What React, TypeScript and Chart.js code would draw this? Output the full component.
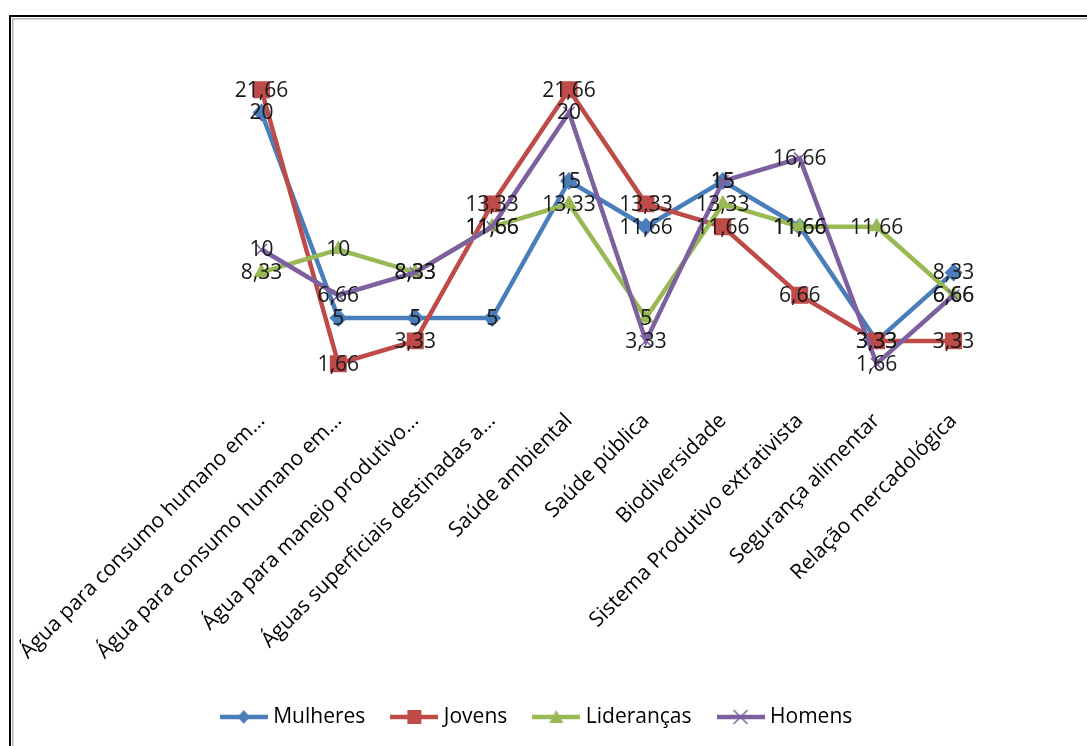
import React, { useEffect, useRef } from "react";
import { Chart, registerables } from "chart.js";

Chart.register(...registerables);

const categories = [
  "Água para consumo humano em…",
  "Água para consumo humano em…",
  "Água para manejo produtivo…",
  "Águas superficiais destinadas a…",
  "Saúde ambiental",
  "Saúde pública",
  "Biodiversidade",
  "Sistema Produtivo extrativista",
  "Segurança alimentar",
  "Relação mercadológica",
];

const mulheres = [20, 5, 5, 5, 15, 11.66, 15, 11.66, 3.33, 8.33];
const jovens = [21.66, 1.66, 3.33, 13.33, 21.66, 13.33, 11.66, 6.66, 3.33, 3.33];
const liderancas = [8.33, 10, 8.33, 11.66, 13.33, 5, 13.33, 11.66, 11.66, 6.66];
const homens = [10, 6.66, 8.33, 11.66, 20, 3.33, 15, 16.66, 1.66, 6.66];

const W = 1087;
const H = 746;
const FONT = "'Open Sans', 'Liberation Sans', sans-serif";

type Marker = "rectRot" | "rect" | "triangle" | "crossRot";

const seriesDefs: { label: string; data: number[]; color: string; marker: Marker; radius: number }[] = [
  { label: "Mulheres", data: mulheres, color: "#4A7EBB", marker: "rectRot", radius: 9 },
  { label: "Jovens", data: jovens, color: "#BE4B48", marker: "rect", radius: 12 },
  { label: "Lideranças", data: liderancas, color: "#98B954", marker: "triangle", radius: 9 },
  { label: "Homens", data: homens, color: "#7D60A0", marker: "crossRot", radius: 8 },
];

const fmt = (v: number) => String(v).replace(".", ",");

// Small legend swatch: a line segment with the series marker in the middle
function makeSwatch(color: string, marker: Marker): HTMLCanvasElement {
  const c = document.createElement("canvas");
  c.width = 48;
  c.height = 20;
  const ctx = c.getContext("2d")!;
  const cx = 24;
  const cy = 10;
  ctx.strokeStyle = color;
  ctx.fillStyle = color;
  ctx.lineWidth = 4.5;
  ctx.beginPath();
  ctx.moveTo(0, cy);
  ctx.lineTo(48, cy);
  ctx.stroke();
  ctx.beginPath();
  if (marker === "rectRot") {
    ctx.moveTo(cx, cy - 7);
    ctx.lineTo(cx + 6, cy);
    ctx.lineTo(cx, cy + 7);
    ctx.lineTo(cx - 6, cy);
    ctx.closePath();
    ctx.fill();
  } else if (marker === "rect") {
    ctx.rect(cx - 7, cy - 7, 14, 14);
    ctx.fill();
  } else if (marker === "triangle") {
    ctx.moveTo(cx, cy - 7);
    ctx.lineTo(cx + 7, cy + 6);
    ctx.lineTo(cx - 7, cy + 6);
    ctx.closePath();
    ctx.fill();
  } else {
    ctx.lineWidth = 1.5;
    ctx.moveTo(cx - 7, cy - 7);
    ctx.lineTo(cx + 7, cy + 7);
    ctx.moveTo(cx + 7, cy - 7);
    ctx.lineTo(cx - 7, cy + 7);
    ctx.stroke();
  }
  return c;
}

// White page with the frame lines along the top and left edges
const framePlugin = {
  id: "frame",
  beforeDraw(chart: Chart) {
    const ctx = chart.ctx;
    ctx.save();
    ctx.fillStyle = "#ffffff";
    ctx.fillRect(0, 0, W, H);
    ctx.fillStyle = "#000000";
    ctx.fillRect(9, 15, W - 9, 2);
    ctx.fillRect(9, 15, 2, H - 15);
    ctx.fillStyle = "#b4b4b4";
    ctx.fillRect(12, 18, W - 12, 1.5);
    ctx.fillRect(12, 18, 1.5, H - 18);
    ctx.restore();
  },
};

// Value labels centred on each point
const valueLabels = {
  id: "valueLabels",
  afterDatasetsDraw(chart: Chart) {
    const ctx = chart.ctx;
    ctx.save();
    ctx.font = `21px ${FONT}`;
    ctx.fillStyle = "#1a1a1a";
    ctx.textAlign = "center";
    ctx.textBaseline = "middle";
    chart.data.datasets.forEach((ds, di) => {
      const meta = chart.getDatasetMeta(di);
      meta.data.forEach((pt, i) => {
        const v = ds.data[i] as number;
        ctx.fillText(fmt(v), pt.x, pt.y + 1);
      });
    });
    ctx.restore();
  },
};

export default function App() {
  const ref = useRef<HTMLCanvasElement>(null);

  useEffect(() => {
    if (!ref.current) return;
    const swatches = seriesDefs.map((s) => makeSwatch(s.color, s.marker));
    const chart = new Chart(ref.current, {
      type: "line",
      data: {
        labels: categories,
        datasets: seriesDefs.map((s, i) => ({
          label: s.label,
          data: s.data,
          borderColor: s.color,
          backgroundColor: s.color,
          borderWidth: 4.5,
          pointStyle: s.marker,
          pointRadius: s.radius,
          pointBorderWidth: s.marker === "crossRot" ? 1.5 : 0,
          pointBorderColor: s.color,
          pointBackgroundColor: s.color,
          tension: 0,
          fill: false,
          order: seriesDefs.length - i,
        })),
      },
      options: {
        responsive: false,
        animation: false,
        devicePixelRatio: 1,
        layout: { padding: { left: 85, right: 95, top: 44, bottom: 8.5 } },
        scales: {
          x: {
            offset: true,
            grid: { display: false, drawTicks: false },
            border: { display: false },
            ticks: {
              autoSkip: false,
              maxRotation: 45,
              minRotation: 45,
              padding: 22,
              color: "#000000",
              font: { family: FONT, size: 21 },
            },
            afterFit: (s: any) => {
              s.height = 290;
              s.paddingLeft = 0;
              s.paddingRight = 0;
            },
          },
          y: {
            display: true,
            min: 0,
            max: 25,
            grid: { display: false, drawTicks: false },
            border: { display: false },
            ticks: { display: false },
            afterFit: (s: any) => {
              s.width = 138;
            },
          },
        },
        plugins: {
          tooltip: { enabled: false },
          legend: {
            position: "bottom",
            labels: {
              usePointStyle: true,
              pointStyleWidth: 38,
              padding: 30,
              color: "#000000",
              font: { family: FONT, size: 21 },
              sort: (a: any, b: any) => a.datasetIndex - b.datasetIndex,
              generateLabels: (c: Chart) => {
                const items = Chart.defaults.plugins.legend.labels.generateLabels(c);
                return items.map((it: any) => ({
                  ...it,
                  pointStyle: swatches[it.datasetIndex],
                  lineWidth: 0,
                }));
              },
            },
          },
        },
      },
      plugins: [framePlugin, valueLabels],
    });
    return () => chart.destroy();
  }, []);

  return (
    <div style={{ position: "absolute", left: 0, top: 0, width: W, height: H }}>
      <canvas ref={ref} width={W} height={H} style={{ width: W, height: H, display: "block" }} />
    </div>
  );
}
